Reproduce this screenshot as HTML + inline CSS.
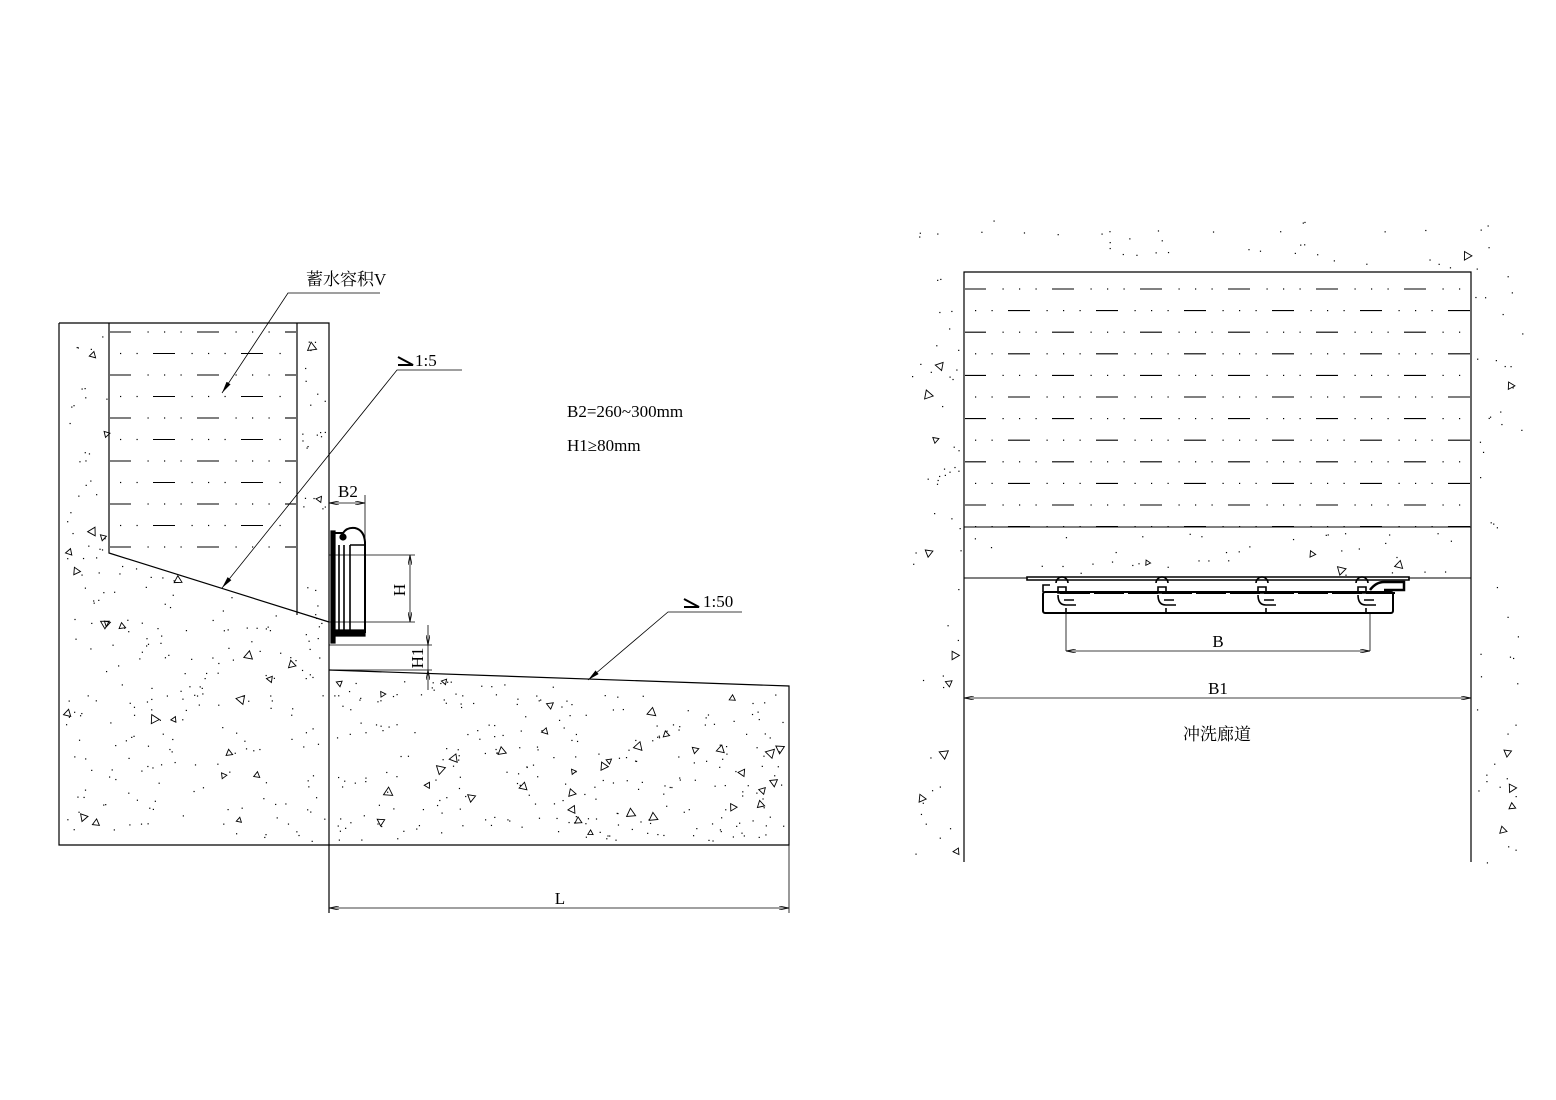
<!DOCTYPE html>
<html><head><meta charset="utf-8"><style>
html,body{margin:0;padding:0;background:#fff;width:1556px;height:1100px;overflow:hidden}
svg{display:block}
text{font-family:"Liberation Serif","Noto Serif CJK SC","Noto Sans CJK SC",serif;fill:#000}
</style></head><body>
<svg id="s" width="1556" height="1100" viewBox="0 0 1556 1100" xmlns="http://www.w3.org/2000/svg">
<defs>
<marker id="a" viewBox="0 0 10 4" refX="10" refY="2" markerWidth="10" markerHeight="4" orient="auto-start-reverse" markerUnits="userSpaceOnUse"><path d="M0,0 L10,2 L0,4" fill="none" stroke="#000" stroke-width="0.8"/></marker>
<marker id="f" viewBox="0 0 10 4" refX="10" refY="2" markerWidth="12" markerHeight="5" orient="auto" markerUnits="userSpaceOnUse"><path d="M0,0 L10,2 L0,4z" fill="#000"/></marker>
</defs>
<g id="stip" stroke="#000" fill="none"></g>
<g id="water" stroke="#000"></g>
<g stroke="#000" stroke-width="1.2" fill="none">
<path d="M59,323 H329 V913"/>
<path d="M59,323 V845 H789 V686 L329,670"/>
<path d="M109,323 V553 L329,622"/>
<path d="M297,323 V615"/>
<path d="M329,645 H432 M329,670 H432" stroke-width="0.8"/>
<path d="M329,555 H415 M329,622 H415" stroke-width="0.8"/>
<path d="M365,495 V555" stroke-width="0.8"/>
<path d="M789,845 V913" stroke-width="0.8"/>
<rect x="331" y="531" width="4" height="112" fill="#000"/>
<path d="M335,533 H343 Q347,527 355,528 Q364,530 365,542 V632 H337" stroke-width="2"/>
<path d="M339,545 V630 M344,545 V630 M350,545 H365 M350,545 V630" stroke-width="1.6"/>
<circle cx="343" cy="537" r="3" fill="#000"/>
<path d="M335,630 H365 V636 H335z" fill="#000"/>
<path d="M964,862 V272 H1471 V862"/>
<path d="M964,527 H1471 M964,578 H1471" stroke-width="1"/>
<path d="M1066,612 V651 M1370,612 V651" stroke-width="0.8"/>
<path d="M1027,577 H1409 V580 H1027z" stroke-width="1.6" fill="#fff"/>
<rect x="1043" y="592" width="350" height="21" rx="2" stroke-width="2"/>
<path d="M1043,592 V585 H1050" stroke-width="1.6"/>
<path d="M1060,593 H1395" stroke-width="2" stroke-dasharray="30,4"/>
</g>
<g id="dev" stroke="#000" stroke-width="1.6" fill="none"></g>
<g stroke="#000" stroke-width="0.8" fill="none">
<line x1="329" y1="503" x2="365" y2="503" marker-start="url(#a)" marker-end="url(#a)"/>
<line x1="410" y1="555" x2="410" y2="622" marker-start="url(#a)" marker-end="url(#a)"/>
<line x1="428" y1="625" x2="428" y2="645" marker-end="url(#a)"/>
<line x1="428" y1="690" x2="428" y2="670" marker-end="url(#a)"/>
<line x1="428" y1="645" x2="428" y2="670"/>
<line x1="329" y1="908" x2="789" y2="908" marker-start="url(#a)" marker-end="url(#a)"/>
<line x1="1066" y1="651" x2="1370" y2="651" marker-start="url(#a)" marker-end="url(#a)"/>
<line x1="964" y1="698" x2="1471" y2="698" marker-start="url(#a)" marker-end="url(#a)"/>
<path d="M380,293 H288 L222,393" marker-end="url(#f)"/>
<path d="M462,370 H397 L222,588" marker-end="url(#f)"/>
<path d="M742,612 H668 L588,680" marker-end="url(#f)"/>
<path d="M398,357 L413,365 H398 M684,599 L699,607 H684" stroke-width="2"/>
</g>
<g font-size="17">
<text x="306" y="285">蓄水容积V</text>
<text x="415" y="366">1:5</text>
<text x="703" y="607">1:50</text>
<text x="567" y="417">B2=260~300mm</text>
<text x="567" y="451">H1≥80mm</text>
<text x="338" y="497">B2</text>
<text x="0" y="0" transform="translate(405,590) rotate(-90)" text-anchor="middle">H</text>
<text x="0" y="0" transform="translate(423,658) rotate(-90)" text-anchor="middle">H1</text>
<text x="560" y="904" text-anchor="middle">L</text>
<text x="1218" y="647" text-anchor="middle">B</text>
<text x="1218" y="694" text-anchor="middle">B1</text>
<text x="1217" y="740" text-anchor="middle">冲洗廊道</text>
</g>
</svg>
<script>
(function(){
var NS="http://www.w3.org/2000/svg";
var seed=12345;function r(){seed=(seed*16807)%2147483647;return seed/2147483647;}
var st=document.getElementById('stip');
function el(n,a,p){var e=document.createElementNS(NS,n);for(var k in a)e.setAttribute(k,a[k]);p.appendChild(e);return e;}
function fill(bx,by,bw,bh,test,nd,nt){
 for(var i=0;i<nd;i++){var x=bx+r()*bw,y=by+r()*bh;if(test(x,y))el('rect',{x:x,y:y,width:1.2,height:1.2,fill:'#000',stroke:'none'},st);}
 for(var i=0;i<nt;i++){var x=bx+r()*bw,y=by+r()*bh;if(!test(x,y))continue;var s=3+r()*2.5,a=r()*6.28;
 var p=[];for(var k=0;k<3;k++){var t=a+k*2.09;p.push((x+s*Math.cos(t)).toFixed(1)+','+(y+s*Math.sin(t)).toFixed(1));}
 el('polygon',{points:p.join(' '),'stroke-width':0.9},st);}
}
fill(59,323,270,522,function(x,y){
 if(x<64||x>325||y<327||y>841)return false;
 if(x>109&&x<297){var ys=553+(x-109)*(69/220);return y>ys+5;}
 if(x>=297&&y<612) return x>301;
 return true;},420,50);
fill(329,670,460,175,function(x,y){if(x<334||x>785||y>841)return false;var yt=670+(x-329)*(16/460);return y>yt+5;},300,40);
fill(912,220,615,645,function(x,y){
 if(x>960&&x<1475&&y>268&&y<531)return false;
 if(x>960&&x<1475&&y>=581)return false;
 if(x>960&&x<1475&&y>=531&&y<581)return y>533&&y<575;
 var d=(x<964?964-x:(x>1471?x-1471:0));
 return d<52;},650,65);
var w=document.getElementById('water');
function water(x0,x1,y0,n,dy,period,off){
 for(var i=0;i<n;i++){var y=y0+i*dy;var o=(i%2?off:0);
  for(var x=x0-period+o;x<x1;x+=period){
   var a=Math.max(x,x0+1),b=Math.min(x+22,x1-1);if(b>a)el('line',{x1:a,y1:y,x2:b,y2:y,'stroke-width':1.1},w);
   for(var k=1;k<4;k++){var dx=x+22+k*(period-22)/4;if(dx>x0+2&&dx<x1-2)el('rect',{x:dx,y:y-0.6,width:1.2,height:1.2,stroke:'none',fill:'#000'},w);}
  }}
}
water(109,297,332,11,21.5,88,44);
water(964,1471,289,12,21.6,88,44);
var d=document.getElementById('dev');
[1062,1162,1262,1362].forEach(function(x){
 el('path',{d:'M'+(x-6)+',583 a5,5 0 1,1 12,0 M'+(x-4)+',587 h8 v6 h-8z'},d);
 el('path',{d:'M'+(x-4)+',595 q0,10 8,10 h10 M'+(x+2)+',600 h10 M'+(x+4)+',608 v5'},d);
});
el('path',{d:'M1370,590 q6,-8 14,-8 h20 v8 h-20','stroke-width':2.5},d);
})();
</script>
</body></html>
